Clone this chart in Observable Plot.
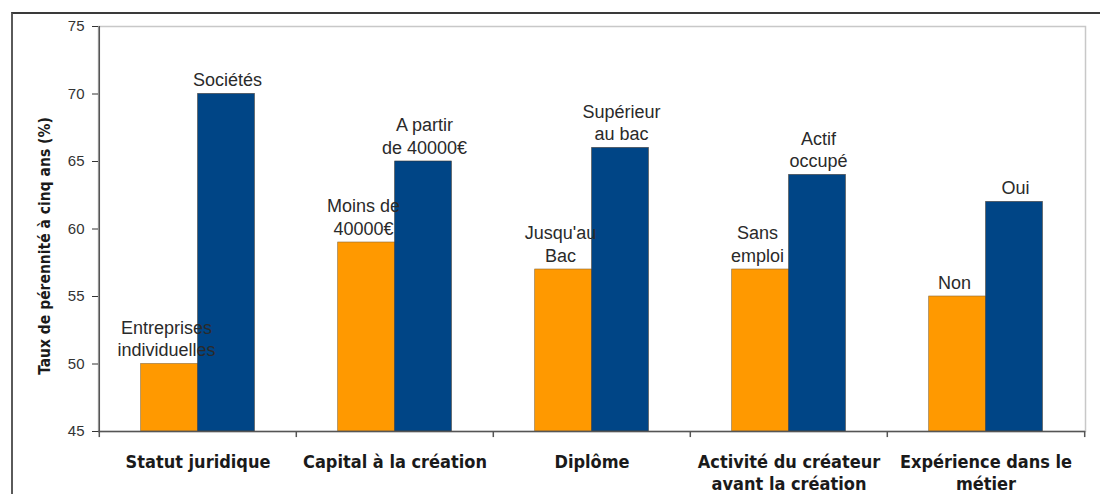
<!DOCTYPE html>
<html>
<head>
<meta charset="utf-8">
<script src="https://cdn.jsdelivr.net/npm/d3@7"></script>
<script src="https://cdn.jsdelivr.net/npm/@observablehq/plot@0.6"></script>
<style>
  html, body { margin: 0; padding: 0; background: #fff; }
  #wrap { position: relative; width: 1100px; height: 494px; overflow: hidden; }
  #border { position: absolute; left: 11px; top: 12px; width: 1100px; height: 500px;
            border-top: 2px solid #3a3a3a; border-left: 2px solid #5a5a5a; box-sizing: border-box; }
  #chart { position: absolute; left: 0; top: 0; }
</style>
</head>
<body>
<div id="wrap"><div id="border"></div><div id="chart"></div></div>
<script>
const groups = ["Statut juridique", "Capital à la création", "Diplôme", "Activité du créateur avant la création", "Expérience dans le métier"];
const groupTickLabels = ["Statut juridique", "Capital à la création", "Diplôme", "Activité du créateur\navant la création", "Expérience dans le\nmétier"];
const lowValues = [50, 59, 57, 57, 55];
const highValues = [70, 65, 66, 64, 62];
const lowLabels = ["Entreprises\nindividuelles", "Moins de\n40000€", "Jusqu'au\nBac", "Sans\nemploi", "Non"];
const highLabels = ["Sociétés", "A partir\nde 40000€", "Supérieur\nau bac", "Actif\noccupé", "Oui"];
const yTicks = [45, 50, 55, 60, 65, 70, 75];
const yLabel = "Taux de pérennité à cinq ans (%)";

const low = groups.map((g, i) => ({group: g, value: lowValues[i], label: lowLabels[i]}));
const high = groups.map((g, i) => ({group: g, value: highValues[i], label: highLabels[i]}));
const edges = groups.map((g) => ({group: g}));
const lastEdge = [{group: groups[groups.length - 1]}];

const W = 1100, H = 494, mL = 98, mR = 15, mT = 26, mB = 63;
const step = (W - mL - mR) / groups.length;
const barW = 57;
const outer = (step - 2 * barW) / 2;
const tickFmt = new Map(groups.map((g, i) => [g, groupTickLabels[i]]));
const narrow = "Liberation Sans Narrow, DejaVu Sans Condensed, sans-serif";

const chart = Plot.plot({
  width: W, height: H,
  marginLeft: mL, marginRight: mR, marginTop: mT, marginBottom: mB,
  style: {fontFamily: "Liberation Sans, Arial, sans-serif", background: "transparent"},
  x: {type: "band", domain: groups, padding: 0},
  y: {domain: [45, 75]},
  marks: [
    Plot.frame({stroke: "#c8c8c8", strokeWidth: 1.5}),
    Plot.barY(low, {x: "group", y1: 45, y2: "value", fill: "#FF9900", stroke: "#8a6a3a", strokeWidth: 0.6,
      insetLeft: outer, insetRight: step - outer - barW}),
    Plot.barY(high, {x: "group", y1: 45, y2: "value", fill: "#004586", stroke: "#333", strokeWidth: 0.6,
      insetLeft: outer + barW, insetRight: outer}),
    Plot.text(low, {x: "group", y: "value", text: "label", dx: -(barW / 2) - 3, dy: -8, lineAnchor: "bottom",
      fontSize: 18, fill: "#2a2a2a", lineHeight: 1.25}),
    Plot.text(high, {x: "group", y: "value", text: "label", dx: barW / 2 + 1, dy: -8, lineAnchor: "bottom",
      fontSize: 18, fill: "#2a2a2a", lineHeight: 1.25}),
    Plot.axisY({ticks: yTicks, tickSize: 6, tickPadding: 8, fontSize: 15, color: "#333", label: null}),
    Plot.ruleX([45], {x: () => groups[0], dx: -step / 2, stroke: "#555", strokeWidth: 1.5}),
    Plot.ruleY([45], {stroke: "#555", strokeWidth: 1.5}),
    Plot.ruleX(edges, {x: "group", dx: -step / 2, y1: 45, y2: 44.55, stroke: "#555", strokeWidth: 1.5}),
    Plot.ruleX(lastEdge, {x: "group", dx: step / 2, y1: 45, y2: 44.55, stroke: "#555", strokeWidth: 1.5}),
    Plot.axisX({tickSize: 0, tickPadding: 21, label: null, tickFormat: (d) => tickFmt.get(d),
      fontSize: 18, fontWeight: "bold", fontFamily: narrow, lineHeight: 1.22, color: "#1a1a1a"}),
    Plot.text([yLabel], {frameAnchor: "left", text: (d) => d, rotate: -90, textAnchor: "middle", dx: -53, dy: 17,
      fontSize: 15.5, fontWeight: "bold", fontFamily: narrow, fill: "#1a1a1a", letterSpacing: "0.6px"})
  ]
});
document.getElementById("chart").appendChild(chart);
</script>
</body>
</html>
